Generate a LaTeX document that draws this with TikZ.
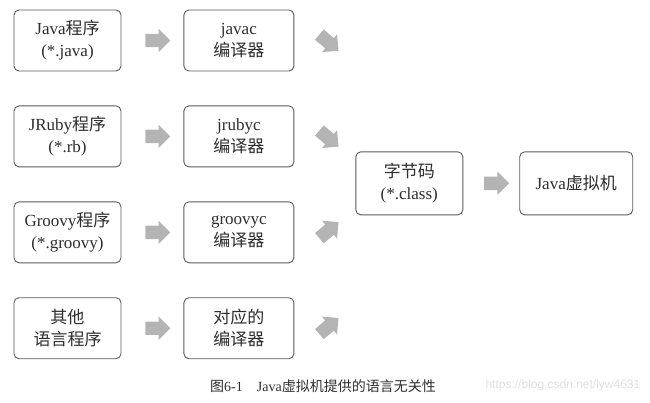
\documentclass[tikz,border=0pt]{standalone}
\usepackage{fontspec}
\setmainfont{Liberation Serif}
\newfontfamily\zh{Noto Sans CJK SC}
\newfontfamily\wm{Liberation Sans}
\usepackage{tikz}
\usetikzlibrary{shapes.arrows, positioning, calc}
\usepackage{xcolor}
\definecolor{boxline}{HTML}{5A5A5A}
\definecolor{arrowgray}{HTML}{B4B4B4}
\definecolor{textgray}{HTML}{2E2E2E}

\begin{document}
\begin{tikzpicture}[
    box/.style={rectangle, rounded corners=5pt, draw=boxline, line width=0.9pt, fill=white,
        minimum width=107pt, minimum height=61pt, align=center, text=textgray,
        font=\fontsize{17}{22}\selectfont},
    blockarrow/.style={single arrow, fill=arrowgray, draw=none, minimum height=25pt,
        inner xsep=0pt, inner ysep=6.5pt, single arrow head extend=5pt},
]
    \useasboundingbox (0,0) rectangle (650pt,-402pt);

    % Define the source programs in the first column
    \node[box] (java) at (67.5pt,-40.5pt) {Java{\zh 程序}\\(*.java)};
    \node[box, below=34pt of java] (jruby) {JRuby{\zh 程序}\\(*.rb)};
    \node[box, below=34pt of jruby] (groovy) {Groovy{\zh 程序}\\(*.groovy)};
    \node[box, below=34pt of groovy] (other) {{\zh 其他}\\{\zh 语言程序}};

    % Add the compilers to the right of them
    \node[box, right=62pt of java, minimum width=110pt] (javac) {javac\\{\zh 编译器}};
    \node[box, right=62pt of jruby, minimum width=110pt] (jrubyc) {jrubyc\\{\zh 编译器}};
    \node[box, right=62pt of groovy, minimum width=110pt] (groovyc) {groovyc\\{\zh 编译器}};
    \node[box, right=62pt of other, minimum width=110pt] (otherc) {{\zh 对应的}\\{\zh 编译器}};

    % Bytecode and the virtual machine
    \coordinate (mid) at ($(jrubyc.east)!0.5!(groovyc.east)+(0,1pt)$);
    \node[box, right=61pt of mid, minimum height=63pt] (bytecode) {{\zh 字节码}\\(*.class)};
    \node[box, right=56pt of bytecode, minimum width=113pt, minimum height=63pt] (jvm) {Java{\zh 虚拟机}};

    % Gray block arrows between the boxes
    \foreach \src/\dst in {java/javac, jruby/jrubyc, groovy/groovyc, other/otherc, bytecode/jvm}
        \node[blockarrow, xshift=2pt] (a-\src) at ($(\src.east)!0.5!(\dst.west)$) {};
    \foreach \src/\ang in {javac/-40, jrubyc/-40, groovyc/40, otherc/40}
        \node[blockarrow, rotate=\ang] (d-\src) at ($(\src.east)+(32pt,0)$) {};

    % Caption and watermark
    \node[text=textgray, font=\fontsize{14}{16}\selectfont] (caption) at (323pt,-386pt)
        {{\zh 图}6-1\quad Java{\zh 虚拟机提供的语言无关性}};
    \node[anchor=west, text=black!12, font=\wm\fontsize{12}{14}\selectfont] (mark) at (482pt,-385pt)
        {https://blog.csdn.net/lyw4631};
\end{tikzpicture}
\end{document}
